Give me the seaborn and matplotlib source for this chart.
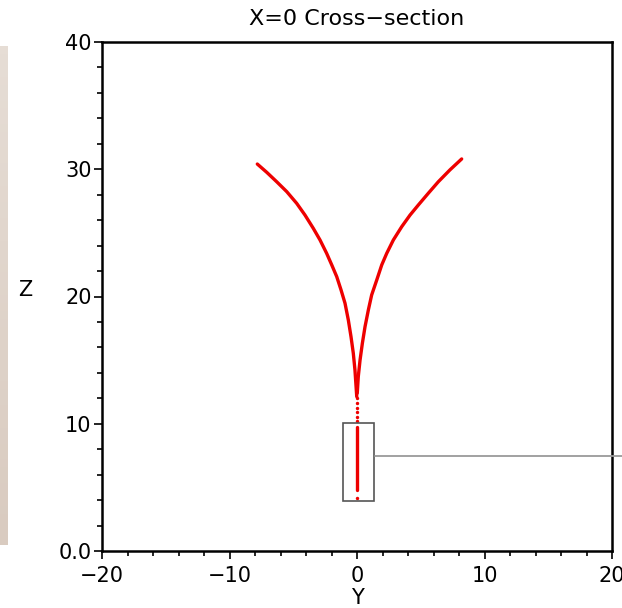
import numpy as np
import pandas as pd
import matplotlib
matplotlib.use("Agg")
import matplotlib.pyplot as plt
from matplotlib.patches import Rectangle
from matplotlib.colors import LinearSegmentedColormap
from matplotlib.ticker import MultipleLocator, FixedFormatter, FixedLocator
import seaborn as sns

# Field-line traces in the X=0 plane (Y, Z)
left_y = [-7.82, -7.08, -6.30, -5.51, -4.73, -4.08, -3.43, -2.90, -2.38,
          -1.98, -1.59, -1.25, -0.94, -0.68, -0.47, -0.29, -0.16, -0.02]
left_z = [30.41, 29.76, 29.02, 28.24, 27.32, 26.40, 25.36, 24.44, 23.39,
          22.48, 21.56, 20.51, 19.47, 18.15, 16.84, 15.54, 14.22, 12.13]
right_y = [8.21, 7.29, 6.38, 5.59, 4.81, 4.16, 3.51, 2.85, 2.33,
           1.94, 1.55, 1.15, 0.89, 0.63, 0.42, 0.24, 0.10, 0.02]
right_z = [30.81, 29.95, 29.02, 28.11, 27.19, 26.40, 25.49, 24.44, 23.39,
           22.48, 21.30, 20.12, 18.94, 17.63, 16.32, 15.01, 13.70, 12.39]

# Stem below the branch point
stem_y = [0.0, 0.0]
stem_z = [9.77, 4.79]
dots_y = [0.0, 0.0, 0.0, 0.0, 0.0, 0.0, 0.0]
dots_z = [12.0, 11.6, 11.2, 10.9, 10.5, 10.2, 4.2]

# Inset region box (Y range, Z range) and its leader line level
box_y = [-1.12, 1.33]
box_z = [3.95, 10.03]
leader_z = 7.47

y_ticks = [-20, -10, 0, 10, 20]
y_labels = ["\u221220", "\u221210", "0", "10", "20"]
z_ticks = [0, 10, 20, 30, 40]
z_labels = ["0.0", "10", "20", "30", "40"]

sns.set_theme(style="white")
plt.rcParams["font.family"] = ["DejaVu Sans"]

fig = plt.figure(figsize=(6.22, 6.08), dpi=100)
ax = fig.add_axes([102 / 622, 57 / 608, 510 / 622, 509 / 608])

red = "#ee0000"
for ys, zs in ((left_y, left_z), (right_y, right_z), (stem_y, stem_z)):
    df = pd.DataFrame({"Y": ys, "Z": zs})
    sns.lineplot(data=df, x="Y", y="Z", sort=False, estimator=None,
                 color=red, lw=2.4, ax=ax)
sns.scatterplot(x=dots_y, y=dots_z, color=red, s=6, linewidth=0, ax=ax)

ax.add_patch(Rectangle((box_y[0], box_z[0]), box_y[1] - box_y[0],
                       box_z[1] - box_z[0], fill=False,
                       edgecolor="#555555", lw=1.2, zorder=3))
ax.plot([box_y[1] + 0.12, 21.5], [leader_z, leader_z], color="#9a9a9a",
        lw=1.3, clip_on=False, zorder=3)

ax.set_xlim(-20, 20)
ax.set_ylim(0, 40)
ax.xaxis.set_major_locator(FixedLocator(y_ticks))
ax.xaxis.set_major_formatter(FixedFormatter(y_labels))
ax.yaxis.set_major_locator(FixedLocator(z_ticks))
ax.yaxis.set_major_formatter(FixedFormatter(z_labels))
ax.xaxis.set_minor_locator(MultipleLocator(2))
ax.yaxis.set_minor_locator(MultipleLocator(2))
ax.tick_params(which="both", direction="out", color="black", width=1.2,
               bottom=True, left=True, top=False, right=False,
               labelsize=15, labelcolor="black")
ax.tick_params(which="major", length=6)
ax.tick_params(which="minor", length=3.5)
ax.tick_params(axis="x", which="major", pad=5)
ax.tick_params(axis="y", which="major", pad=1.5)
for s in ax.spines.values():
    s.set_color("black")
    s.set_linewidth(1.8)

ax.set_xlabel("Y", fontsize=15, labelpad=1, color="black")
ax.set_ylabel("")
fig.text(25 / 622, 1 - 290 / 608, "Z", fontsize=15, ha="center",
         va="center", color="black")
ax.set_title("X=0 Cross\u2212section", fontsize=16, pad=12, color="black")

# Shaded strip along the left margin
strip = np.linspace(0, 1, 64).reshape(-1, 1)
sax = fig.add_axes([0, 63 / 608, 8 / 622, 499 / 608])
sax.imshow(strip, aspect="auto",
           cmap=LinearSegmentedColormap.from_list("strip", ["#e6ddd5", "#d9cbc0"]))
sax.set_axis_off()

fig.savefig("out.png", dpi=100)
